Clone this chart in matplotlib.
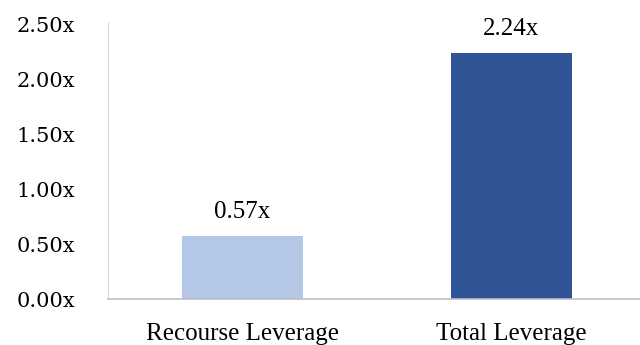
import numpy as np
import matplotlib
matplotlib.use('Agg')
import matplotlib.pyplot as plt

categories = ['Recourse Leverage', 'Total Leverage']
leverage = [0.57, 2.24]
bar_colors = ['#B4C7E7', '#2F5597']
yticks = [0.0, 0.5, 1.0, 1.5, 2.0, 2.5]

fig = plt.figure(figsize=(6.4, 3.45), dpi=100)
ax = fig.add_axes([0.169, 0.133, 0.831, 0.803])

x = np.arange(len(categories))
bars = ax.bar(x, leverage, width=0.45, color=bar_colors)

# value labels above each bar
for b, v in zip(bars, leverage):
    ax.text(b.get_x() + b.get_width() / 2, v + 0.165, f'{v:.2f}x',
            ha='center', va='baseline', fontsize=18, family='Liberation Serif')

ax.set_xlim(-0.5, 1.48)
ax.set_ylim(0, 2.52)
ax.set_xticks(x)
ax.set_xticklabels(categories, fontsize=18, family='Liberation Serif')
ax.set_yticks(yticks)
ax.set_yticklabels([f'{t:.2f}x' for t in yticks], fontsize=15, family='DejaVu Serif')
ax.tick_params(length=0)
ax.tick_params(axis='x', pad=17)
ax.tick_params(axis='y', pad=24)

ax.spines['top'].set_visible(False)
ax.spines['right'].set_visible(False)
ax.spines['left'].set_color('#D9D9D9')
ax.spines['bottom'].set_color('#BFBFBF')
ax.spines['bottom'].set_linewidth(1.2)

fig.savefig('out.png', dpi=100)
